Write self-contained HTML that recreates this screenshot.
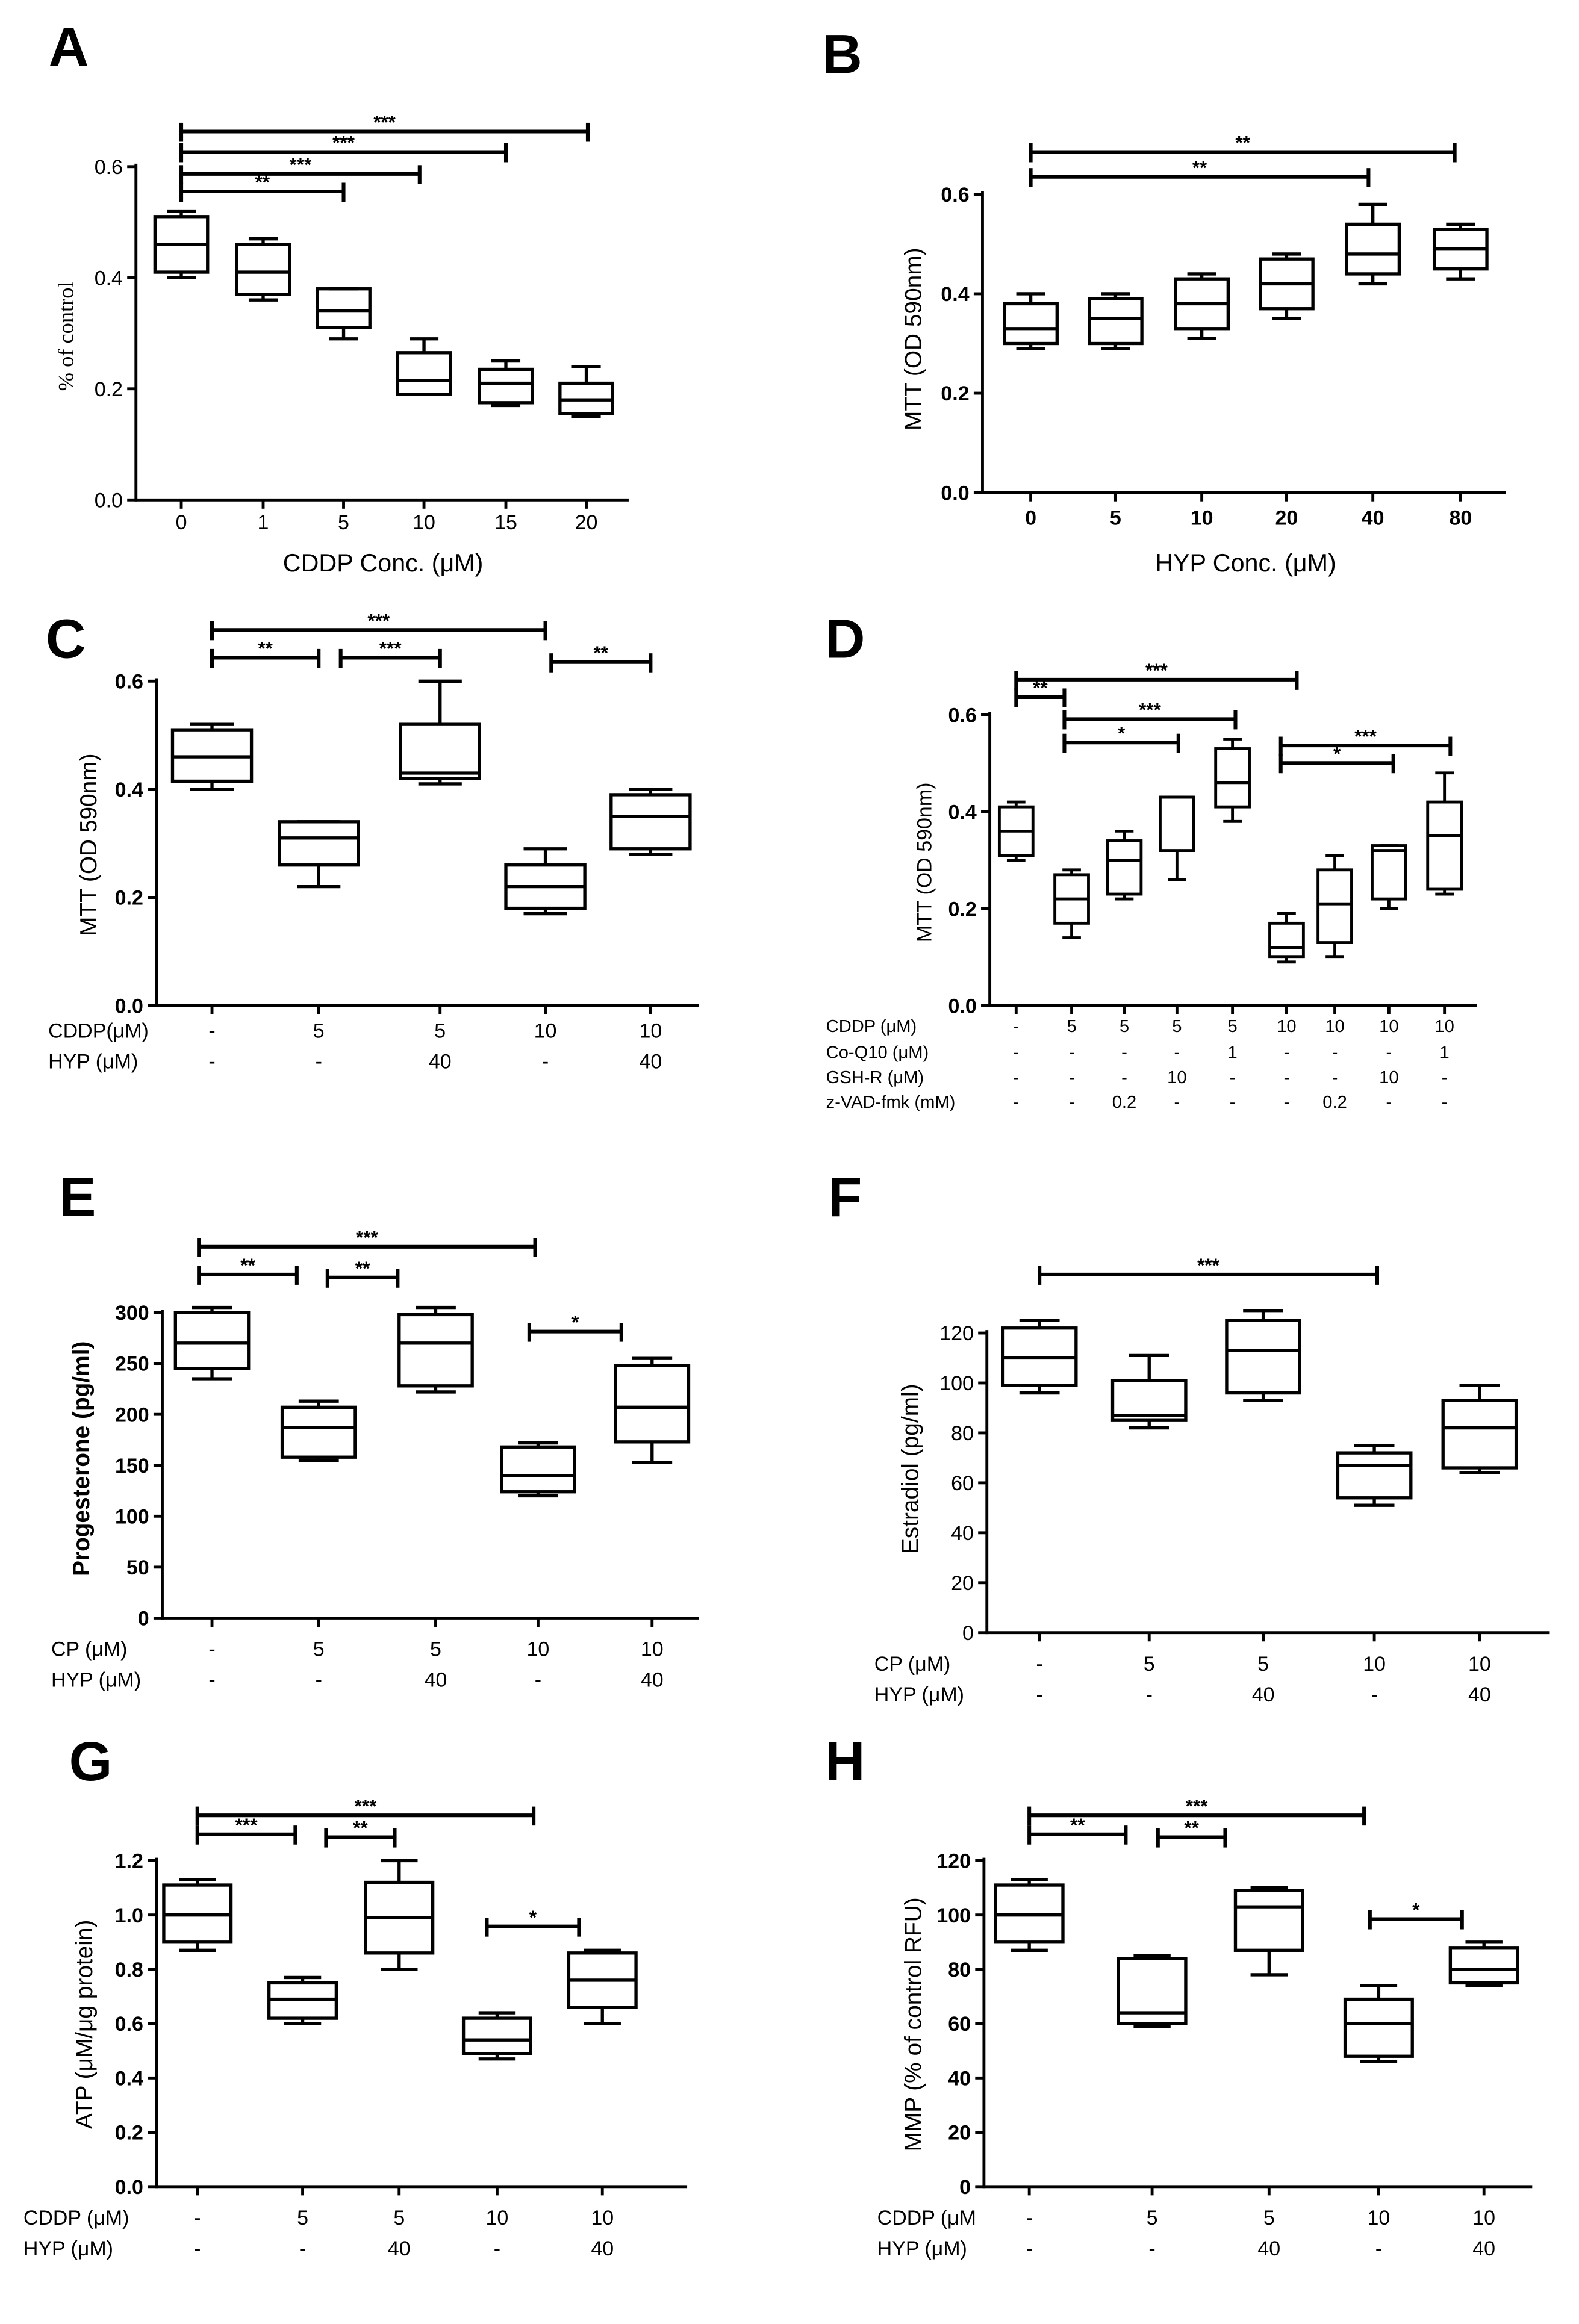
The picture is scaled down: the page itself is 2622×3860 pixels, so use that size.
<!DOCTYPE html>
<html><head><meta charset="utf-8"><title>Box plot panels A-H</title>
<style>
html,body{margin:0;padding:0;background:#fff;}
svg{display:block;font-family:"Liberation Sans",Arial,sans-serif;}
</style></head>
<body>
<svg id="fig" width="2622" height="3860" viewBox="0 0 1080 1590" preserveAspectRatio="none" xmlns="http://www.w3.org/2000/svg"></svg>
<script>
// ---- Panel data (min, q1, median, q3, max) ----
const aCats = ["0","1","5","10","15","20"];
const aMin = [0.40,0.36,0.29,0.19,0.17,0.15];
const aQ1  = [0.41,0.37,0.31,0.19,0.175,0.155];
const aMed = [0.46,0.41,0.34,0.215,0.21,0.18];
const aQ3  = [0.51,0.46,0.38,0.265,0.235,0.21];
const aMax = [0.52,0.47,0.38,0.29,0.25,0.24];
const aTicks = [0.0,0.2,0.4,0.6];

const bCats = ["0","5","10","20","40","80"];
const bMin = [0.29,0.29,0.31,0.35,0.42,0.43];
const bQ1  = [0.30,0.30,0.33,0.37,0.44,0.45];
const bMed = [0.33,0.35,0.38,0.42,0.48,0.49];
const bQ3  = [0.38,0.39,0.43,0.47,0.54,0.53];
const bMax = [0.40,0.40,0.44,0.48,0.58,0.54];
const bTicks = [0.0,0.2,0.4,0.6];

const cMin = [0.40,0.22,0.41,0.17,0.28];
const cQ1  = [0.415,0.26,0.42,0.18,0.29];
const cMed = [0.46,0.31,0.43,0.22,0.35];
const cQ3  = [0.51,0.34,0.52,0.26,0.39];
const cMax = [0.52,0.34,0.60,0.29,0.40];
const cTicks = [0.0,0.2,0.4,0.6];

const dMin = [0.30,0.14,0.22,0.26,0.38,0.09,0.10,0.20,0.23];
const dQ1  = [0.31,0.17,0.23,0.32,0.41,0.10,0.13,0.22,0.24];
const dMed = [0.36,0.22,0.30,0.43,0.46,0.12,0.21,0.32,0.35];
const dQ3  = [0.41,0.27,0.34,0.43,0.53,0.17,0.28,0.33,0.42];
const dMax = [0.42,0.28,0.36,0.43,0.55,0.19,0.31,0.33,0.48];
const dTicks = [0.0,0.2,0.4,0.6];

const eMin = [235,155,222,120,153];
const eQ1  = [245,158,228,124,173];
const eMed = [270,187,270,140,207];
const eQ3  = [300,207,298,168,248];
const eMax = [305,213,305,172,255];
const eTicks = [0,50,100,150,200,250,300];

const fMin = [96,82,93,51,64];
const fQ1  = [99,85,96,54,66];
const fMed = [110,87,113,67,82];
const fQ3  = [122,101,125,72,93];
const fMax = [125,111,129,75,99];
const fTicks = [0,20,40,60,80,100,120];

const gMin = [0.87,0.60,0.80,0.47,0.60];
const gQ1  = [0.90,0.62,0.86,0.49,0.66];
const gMed = [1.00,0.69,0.99,0.54,0.76];
const gQ3  = [1.11,0.75,1.12,0.62,0.86];
const gMax = [1.13,0.77,1.20,0.64,0.87];
const gTicks = [0.0,0.2,0.4,0.6,0.8,1.0,1.2];

const hMin = [87,59,78,46,74];
const hQ1  = [90,60,87,48,75];
const hMed = [100,64,103,60,80];
const hQ3  = [111,84,109,69,88];
const hMax = [113,85,110,74,90];
const hTicks = [0,20,40,60,80,100,120];

const cddpRow = ["-","5","5","10","10"];
const hypRow = ["-","-","40","-","40"];
const dRow1 = ["-","5","5","5","5","10","10","10","10"];
const dRow2 = ["-","-","-","-","1","-","-","-","1"];
const dRow3 = ["-","-","-","10","-","-","-","10","-"];
const dRow4 = ["-","-","0.2","-","-","-","0.2","-","-"];

const NS="http://www.w3.org/2000/svg";
const svg=document.getElementById('fig');
function mk(tag,attrs,parent){const e=document.createElementNS(NS,tag);for(const k in attrs)e.setAttribute(k,attrs[k]);(parent||svg).appendChild(e);return e;}
function txt(s,x,y,size,opts,parent){opts=opts||{};const t=mk('text',{x:x,y:y,'font-size':size,'text-anchor':opts.anchor||'middle',fill:'#000'},parent);if(opts.bold)t.setAttribute('font-weight','bold');if(opts.family)t.setAttribute('font-family',opts.family);if(opts.rot!==undefined)t.setAttribute('transform','rotate('+opts.rot+' '+x+' '+y+')');t.textContent=s;return t;}

function panel(p){
  const g=mk('g',{});
  
  
  const sy=v=>p.y0-(v-p.ymin)/(p.ymax-p.ymin)*(p.y0-p.y1);
  // title letter
  const tl=txt(p.letter,p.lx,p.ly,38,{bold:true},g);
  
  
  // axes
  const ya=mk('line',{x1:p.ax,y1:p.y0+1,x2:p.ax,y2:sy(p.ticks[p.ticks.length-1])-2,stroke:'#000','stroke-width':2},g);
  
  
  const xa=mk('line',{x1:p.ax,y1:p.y0,x2:p.axEnd,y2:p.y0,stroke:'#000','stroke-width':2},g);
  
  
  p.ticks.forEach(t=>{
    const y=sy(t);
    mk('line',{x1:p.ax-6,y1:y,x2:p.ax,y2:y,stroke:'#000','stroke-width':2},g);
    const lab=txt(p.fmt(t),p.ax-9,y+5,14,{anchor:'end',bold:p.boldTicks},g);
    
    
  });
  p.xs.forEach(x=>mk('line',{x1:x,y1:p.y0,x2:x,y2:p.y0+6,stroke:'#000','stroke-width':2},g));
  // boxes
  const w=p.bw;
  for(let i=0;i<p.xs.length;i++){
    const x=p.xs[i];
    const bg=mk('g',{},g);
    
    
    const sw=p.sw||2.2;
    mk('rect',{x:x-w/2,y:sy(p.q3[i]),width:w,height:sy(p.q1[i])-sy(p.q3[i]),fill:'none',stroke:'#000','stroke-width':sw},bg);
    mk('line',{x1:x-w/2,y1:sy(p.med[i]),x2:x+w/2,y2:sy(p.med[i]),stroke:'#000','stroke-width':sw},bg);
    mk('line',{x1:x,y1:sy(p.q3[i]),x2:x,y2:sy(p.max[i]),stroke:'#000','stroke-width':sw},bg);
    mk('line',{x1:x,y1:sy(p.q1[i]),x2:x,y2:sy(p.min[i]),stroke:'#000','stroke-width':sw},bg);
    const cw=w*0.55;
    mk('line',{x1:x-cw/2,y1:sy(p.max[i]),x2:x+cw/2,y2:sy(p.max[i]),stroke:'#000','stroke-width':sw},bg);
    mk('line',{x1:x-cw/2,y1:sy(p.min[i]),x2:x+cw/2,y2:sy(p.min[i]),stroke:'#000','stroke-width':sw},bg);
  }
  // brackets
  (p.br||[]).forEach(b=>{
    const bg=mk('g',{},g);
    
    
    mk('line',{x1:b[0],y1:b[2],x2:b[1],y2:b[2],stroke:'#000','stroke-width':2.5},bg);
    mk('line',{x1:b[0],y1:b[2]-6,x2:b[0],y2:b[2]+7,stroke:'#000','stroke-width':2.5},bg);
    mk('line',{x1:b[1],y1:b[2]-6,x2:b[1],y2:b[2]+7,stroke:'#000','stroke-width':2.5},bg);
    txt(b[3],(b[0]+b[1])/2,b[2]-2,13,{bold:true},bg);
  });
  // y label
  const yl=txt(p.ylab,p.ylx,p.yly,p.ylsize||16,{rot:-90,bold:p.ylbold,family:p.ylfam},g);
  
  
  // x cat labels / rows
  if(p.cats){p.cats.forEach((c,i)=>{const l=txt(c,p.xs[i],p.catY,14,{bold:p.boldTicks},g);});}
  if(p.xlab){const xl=txt(p.xlab,p.xlx,p.xly,17,{},g);}
  (p.rows||[]).forEach(r=>{
    const rl=txt(r.label,r.lx,r.y,r.size||14,{anchor:'start'},g);
    
    
    r.vals.forEach((v,i)=>txt(v,p.xs[i],r.y,r.size||14,{},g));
  });
}
const f1=v=>v.toFixed(1);
const f0=v=>String(v);

panel({name:'panel-a',letter:'A',lx:47,ly:45,ax:93,axEnd:430,y0:342,y1:114,ymin:0,ymax:0.6,ticks:aTicks,fmt:f1,boldTicks:false,
  xs:[124,180,235,290,346,401],bw:36,min:aMin,q1:aQ1,med:aMed,q3:aQ3,max:aMax,cats:aCats,catY:362,
  br:[[124,235,131,'**'],[124,287,119,'***'],[124,346,104,'***'],[124,402,90,'***']],
  ylab:'% of control',ylx:50,yly:230,ylfam:'"Liberation Serif",serif',ylsize:15,xlab:'CDDP Conc. (μM)',xlx:262,xly:391});

panel({name:'panel-b',letter:'B',lx:576,ly:50,ax:672,axEnd:1030,y0:337,y1:133,ymin:0,ymax:0.6,ticks:bTicks,fmt:f1,boldTicks:true,
  xs:[705,763,822,880,939,999],bw:36,min:bMin,q1:bQ1,med:bMed,q3:bQ3,max:bMax,cats:bCats,catY:359,
  br:[[705,936,121,'**'],[705,995,104,'**']],
  ylab:'MTT (OD 590nm)',ylx:630,yly:232,xlab:'HYP Conc. (μM)',xlx:852,xly:391});

panel({name:'panel-c',letter:'C',lx:45,ly:450,ax:107,axEnd:478,y0:688,y1:466,ymin:0,ymax:0.6,ticks:cTicks,fmt:f1,boldTicks:true,
  xs:[145,218,301,373,445],bw:54,min:cMin,q1:cQ1,med:cMed,q3:cQ3,max:cMax,
  br:[[145,218,450,'**'],[233,301,450,'***'],[145,373,431,'***'],[377,445,453,'**']],
  ylab:'MTT (OD 590nm)',ylx:66,yly:578,
  rows:[{label:'CDDP(μM)',lx:33,y:710,vals:cddpRow},{label:'HYP (μM)',lx:33,y:731,vals:hypRow}]});

panel({name:'panel-d',letter:'D',lx:578,ly:450,ax:677,axEnd:1010,y0:688,y1:489,ymin:0,ymax:0.6,ticks:dTicks,fmt:f1,boldTicks:true,
  xs:[695,733,769,805,843,880,913,950,988],bw:23,sw:2,min:dMin,q1:dQ1,med:dMed,q3:dQ3,max:dMax,
  br:[[695,728,477,'**'],[695,887,465,'***'],[728,845,492,'***'],[728,806,508,'*'],[876,992,510,'***'],[876,953,522,'*']],
  ylab:'MTT (OD 590nm)',ylx:637,yly:590,ylsize:14,
  rows:[{label:'CDDP  (μM)',lx:565,y:706,vals:dRow1,size:12},{label:'Co-Q10 (μM)',lx:565,y:724,vals:dRow2,size:12},
        {label:'GSH-R (μM)',lx:565,y:741,vals:dRow3,size:12},{label:'z-VAD-fmk (mM)',lx:565,y:758,vals:dRow4,size:12}]});

panel({name:'panel-e',letter:'E',lx:53,ly:832,ax:111,axEnd:478,y0:1107,y1:898,ymin:0,ymax:300,ticks:eTicks,fmt:f0,boldTicks:true,
  xs:[145,218,298,368,446],bw:50,min:eMin,q1:eQ1,med:eMed,q3:eQ3,max:eMax,
  br:[[136,203,872,'**'],[224,272,874,'**'],[136,366,853,'***'],[362,425,911,'*']],
  ylab:'Progesterone (pg/ml)',ylx:61,yly:998,ylbold:true,
  rows:[{label:'CP  (μM)',lx:35,y:1133,vals:cddpRow},{label:'HYP (μM)',lx:35,y:1154,vals:hypRow}]});

panel({name:'panel-f',letter:'F',lx:578,ly:832,ax:675,axEnd:1060,y0:1117,y1:912,ymin:0,ymax:120,ticks:fTicks,fmt:f0,boldTicks:false,
  xs:[711,786,864,940,1012],bw:50,min:fMin,q1:fQ1,med:fMed,q3:fQ3,max:fMax,
  br:[[711,942,872,'***']],
  ylab:'Estradiol (pg/ml)',ylx:628,yly:1005,
  rows:[{label:'CP  (μM)',lx:598,y:1143,vals:cddpRow},{label:'HYP (μM)',lx:598,y:1164,vals:hypRow}]});

panel({name:'panel-g',letter:'G',lx:62,ly:1218,ax:107,axEnd:470,y0:1496,y1:1273,ymin:0,ymax:1.2,ticks:gTicks,fmt:f1,boldTicks:true,
  xs:[135,207,273,340,412],bw:46,min:gMin,q1:gQ1,med:gMed,q3:gQ3,max:gMax,
  br:[[135,202,1255,'***'],[223,270,1257,'**'],[135,365,1242,'***'],[333,396,1318,'*']],
  ylab:'ATP (μM/μg protein)',ylx:63,yly:1385,
  rows:[{label:'CDDP  (μM)',lx:16,y:1522,vals:cddpRow},{label:'HYP (μM)',lx:16,y:1543,vals:hypRow}]});

panel({name:'panel-h',letter:'H',lx:578,ly:1218,ax:673,axEnd:1048,y0:1496,y1:1273,ymin:0,ymax:120,ticks:hTicks,fmt:f0,boldTicks:true,
  xs:[704,788,868,943,1015],bw:46,min:hMin,q1:hQ1,med:hMed,q3:hQ3,max:hMax,
  br:[[704,770,1255,'**'],[792,838,1257,'**'],[704,933,1242,'***'],[937,1000,1313,'*']],
  ylab:'MMP (% of control RFU)',ylx:630,yly:1385,
  rows:[{label:'CDDP  (μM',lx:600,y:1522,vals:cddpRow},{label:'HYP (μM)',lx:600,y:1543,vals:hypRow}]});
</script>
</body></html>
